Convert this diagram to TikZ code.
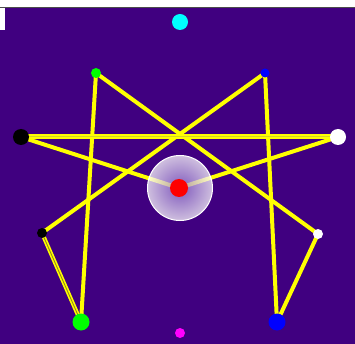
\documentclass[tikz,border=0pt]{standalone}
\usetikzlibrary{backgrounds}
\definecolor{space}{RGB}{64,0,128}
\definecolor{rodyellow}{RGB}{255,255,0}
\definecolor{roddark}{RGB}{150,140,20}
\definecolor{rodmid}{RGB}{215,210,40}
\definecolor{shellin}{RGB}{150,120,210}
\definecolor{aqua}{RGB}{0,255,255}
\definecolor{lime}{RGB}{0,255,0}
\definecolor{deepblue}{RGB}{0,0,255}
\definecolor{fuchsia}{RGB}{255,0,255}
\definecolor{scarlet}{RGB}{255,0,0}
\pgfdeclarelayer{rods}
\pgfsetlayers{background,rods,main}

\begin{document}
\begin{tikzpicture}[x=1pt,y=-1pt,
  ball/.style={circle,inner sep=0pt,minimum size=#1},
  rod/.style={draw=rodyellow,line width=4pt},
  twin/.style={draw=rodyellow,line width=1.6pt,double=roddark,double distance=0.9pt}]
\useasboundingbox (0,0) rectangle (355,344);
% backdrop
\begin{pgfonlayer}{background}
\fill[white] (0,0) rectangle (355,344);
\fill[space] (0,8) rectangle (355,344);
\fill[white] (0,8) rectangle (4.5,30);
\draw[black!70,line width=1pt] (0,7.5) -- (355,7.5);
\end{pgfonlayer}
% atoms
\node[ball=16pt,fill=aqua] (top) at (180,22) {};
\node[ball=10pt,fill=lime] (gsm) at (96,73) {};
\node[ball=9pt,fill=deepblue] (bsm) at (265,73) {};
\node[ball=16pt,fill=black] (kbig) at (21,137) {};
\node[ball=16pt,fill=white] (wbig) at (338,137) {};
\node[ball=65pt,inner color=shellin,outer color=white,fill opacity=0.75,
      draw=white,line width=1pt] (shell) at (180,188) {};
\node[ball=18pt,fill=scarlet] (core) at (179,188) {};
\node[ball=10pt,fill=black] (ksm) at (42,233) {};
\node[ball=10pt,fill=white] (wsm) at (318,234) {};
\node[ball=17pt,fill=lime] (gbig) at (81,322) {};
\node[ball=17pt,fill=deepblue] (bbig) at (277,322) {};
\node[ball=10pt,fill=fuchsia] (bot) at (180,333) {};
% bonds
\begin{pgfonlayer}{rods}
\foreach \x/\y in {kbig/core,core/wbig,gsm/gbig,gsm/wsm,bsm/ksm,bsm/bbig,wsm/bbig}
  \draw[rod] (\x.center) -- (\y.center);
\draw[twin,line width=2pt,double=rodmid,double distance=1pt] (kbig.center) -- (wbig.center);
\draw[twin] (ksm.center) -- (gbig.center);
\end{pgfonlayer}
\end{tikzpicture}
\end{document}
